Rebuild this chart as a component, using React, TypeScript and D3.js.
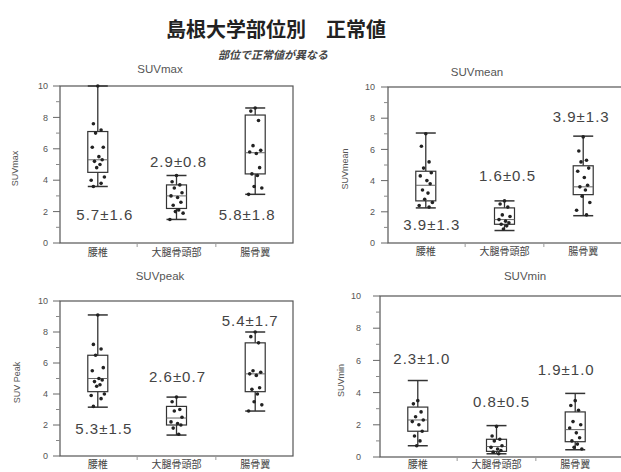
import React from "react";
import * as d3 from "d3";

const categories = ["腰椎", "大腿骨頭部", "腸骨翼"];

// box stats: [whiskerLow, q1, median, q3, whiskerHigh]
const maxStats = [[3.6, 4.5, 5.3, 7.1, 10.0], [1.5, 2.2, 3.0, 3.7, 4.3], [3.1, 4.4, 5.75, 8.15, 8.6]];
const meanStats = [[2.25, 2.7, 3.7, 4.6, 7.05], [0.8, 1.2, 1.5, 2.25, 2.7], [1.75, 3.1, 3.6, 4.95, 6.85]];
const peakStats = [[3.15, 4.15, 5.0, 6.5, 9.1], [1.35, 2.0, 2.45, 3.2, 3.8], [2.9, 4.15, 5.3, 7.3, 8.0]];
const minStats = [[0.7, 1.6, 2.3, 3.1, 4.75], [0.2, 0.35, 0.65, 1.1, 1.95], [0.45, 0.95, 1.7, 2.8, 3.95]];

const maxPoints = [
  [10.0, 7.6, 7.2, 7.0, 6.1, 6.1, 5.5, 5.3, 5.2, 5.0, 4.8, 4.2, 4.0, 3.8, 3.6],
  [4.3, 3.9, 3.7, 3.5, 3.2, 3.0, 2.9, 2.6, 2.4, 2.1, 2.0, 1.9, 1.5],
  [8.6, 8.4, 7.8, 6.2, 5.9, 5.8, 5.7, 4.8, 4.4, 4.3, 3.6, 3.5, 3.1],
];
const meanPoints = [
  [7.0, 6.2, 5.2, 4.8, 4.5, 4.3, 4.0, 3.8, 3.4, 3.2, 2.8, 2.6, 2.4, 2.3],
  [2.7, 2.5, 2.3, 1.8, 1.7, 1.5, 1.4, 1.3, 1.2, 1.1, 0.9],
  [6.8, 5.9, 5.3, 5.2, 4.8, 4.6, 4.2, 3.7, 3.6, 3.4, 3.0, 2.6, 2.1, 1.8],
];
const peakPoints = [
  [9.1, 7.2, 6.9, 6.5, 5.7, 5.5, 5.0, 4.9, 4.8, 4.6, 4.5, 4.0, 3.9, 3.7, 3.2],
  [3.8, 3.5, 3.0, 2.9, 2.5, 2.2, 2.1, 2.0, 1.8, 1.4],
  [8.0, 7.7, 7.3, 5.5, 5.4, 5.3, 5.2, 4.4, 4.3, 4.0, 3.5, 3.3, 2.9],
];
const minPoints = [
  [3.5, 3.3, 2.8, 2.5, 2.3, 2.2, 2.0, 1.6, 1.3, 1.0, 0.7],
  [1.9, 1.3, 1.1, 1.0, 0.7, 0.6, 0.5, 0.4, 0.3, 0.2],
  [3.5, 3.2, 2.9, 2.2, 2.0, 1.8, 1.5, 1.2, 1.0, 0.8, 0.6, 0.5],
];

const maxLabels = ["5.7±1.6", "2.9±0.8", "5.8±1.8"];
const meanLabels = ["3.9±1.3", "1.6±0.5", "3.9±1.3"];
const peakLabels = ["5.3±1.5", "2.6±0.7", "5.4±1.7"];
const minLabels = ["2.3±1.0", "0.8±0.5", "1.9±1.0"];

const yTicks = [0, 2, 4, 6, 8, 10];
const yMinorTicks = [1, 3, 5, 7, 9];

const panels = [
  {
    title: "SUVmax", yLabel: "SUVmax", stats: maxStats, points: maxPoints, labels: maxLabels,
    x0: 60, x1: 293, y0: 86, y1: 243, titleX: 160, titleY: 73, yLabelX: 18, tickGap: 12, catY: 256,
    ann: [[7, 1.8], [2, 5.2], [-8, 1.8]],
  },
  {
    title: "SUVmean", yLabel: "SUVmean", stats: meanStats, points: meanPoints, labels: meanLabels,
    x0: 388, x1: 623, y0: 87, y1: 243, titleX: 477, titleY: 76, yLabelX: 348, tickGap: 13, catY: 255,
    ann: [[6, 1.15], [3, 4.3], [-2, 8.1]],
  },
  {
    title: "SUVpeak", yLabel: "SUV Peak", stats: peakStats, points: peakPoints, labels: peakLabels,
    x0: 60, x1: 293, y0: 301, y1: 456, titleX: 160, titleY: 280, yLabelX: 20, tickGap: 12, catY: 468,
    ann: [[6, 1.8], [1, 5.1], [-5, 8.75]],
  },
  {
    title: "SUVmin", yLabel: "SUVmin", stats: minStats, points: minPoints, labels: minLabels,
    x0: 380, x1: 623, y0: 296, y1: 457, titleX: 525, titleY: 280, yLabelX: 344, tickGap: 19, catY: 468,
    ann: [[4, 6.1], [5, 3.45], [-9, 5.4]],
  },
];

const jitter = [0, -4, 3, -2, 5, -5, 1, 4, -3, 2, -1, 6, -6, 3, -4, 0];

function Panel({ p }: { p: any }) {
  const x = d3.scalePoint<string>().domain(categories).range([p.x0, p.x0 + 233]).padding(0.48);
  const y = d3.scaleLinear().domain([0, 10]).range([p.y1, p.y0]);
  const bw = 20;
  const step = x.step();
  const ink = "#333";
  return (
    <g>
      <text x={p.titleX} y={p.titleY} textAnchor="middle" fontSize={11.5} fill="#555" fontFamily="Liberation Sans, Arial, sans-serif">{p.title}</text>
      <rect x={p.x0} y={p.y0} width={p.x1 - p.x0} height={p.y1 - p.y0} fill="none" stroke="#555" strokeWidth={1.2} />
      {yTicks.map((t) => (
        <g key={"t" + t}>
          <line x1={p.x0 - 7} x2={p.x0} y1={y(t)} y2={y(t)} stroke="#666" />
          <text x={p.x0 - p.tickGap} y={y(t)} dy="0.35em" textAnchor="end" fontSize={9} fill="#555" fontFamily="Liberation Sans, Arial, sans-serif">{t}</text>
        </g>
      ))}
      {yMinorTicks.map((t) => (
        <line key={"m" + t} x1={p.x0 - 4} x2={p.x0} y1={y(t)} y2={y(t)} stroke="#888" />
      ))}
      <text transform={`translate(${p.yLabelX},${(p.y0 + p.y1) / 2 + 4}) rotate(-90)`} textAnchor="middle" fontSize={9} fill="#555" fontFamily="Liberation Sans, Arial, sans-serif">{p.yLabel}</text>
      {categories.slice(1).map((c) => (
        <line key={"xt" + c} x1={(x(c) as number) - step / 2} x2={(x(c) as number) - step / 2} y1={p.y1} y2={p.y1 + 4} stroke="#999" />
      ))}
      {categories.map((c, i) => {
        const cx = x(c) as number;
        const [lo, q1, med, q3, hi] = p.stats[i];
        return (
          <g key={c}>
            <text x={cx} y={p.catY} textAnchor="middle" fontSize={10} fill="#444" fontFamily="Noto Sans CJK JP, sans-serif">{c}</text>
            <line x1={cx} x2={cx} y1={y(hi)} y2={y(q3)} stroke={ink} strokeWidth={1.3} />
            <line x1={cx} x2={cx} y1={y(q1)} y2={y(lo)} stroke={ink} strokeWidth={1.3} />
            <line x1={cx - bw / 2} x2={cx + bw / 2} y1={y(hi)} y2={y(hi)} stroke={ink} strokeWidth={1.5} />
            <line x1={cx - bw / 2} x2={cx + bw / 2} y1={y(lo)} y2={y(lo)} stroke={ink} strokeWidth={1.5} />
            <rect x={cx - bw / 2} y={y(q3)} width={bw} height={y(q1) - y(q3)} fill="#fff" stroke={ink} strokeWidth={1.2} />
            <line x1={cx - bw / 2} x2={cx + bw / 2} y1={y(med)} y2={y(med)} stroke="#666" strokeWidth={1} />
            {p.points[i].map((v: number, j: number) => (
              <circle key={j} cx={cx + jitter[j % jitter.length] * 1.1} cy={y(v)} r={1.8} fill="#222" />
            ))}
            <text x={cx + p.ann[i][0]} y={y(p.ann[i][1])} dy="0.36em" textAnchor="middle" fontSize={15} fill="#444" letterSpacing={1} fontFamily="Liberation Sans, Arial, sans-serif">{p.labels[i]}</text>
          </g>
        );
      })}
    </g>
  );
}

export default function App() {
  return (
    <svg width={621} height={472} style={{ position: "absolute", left: 0, top: 0, background: "#fff" }}>
      <rect width={621} height={472} fill="#fff" />
      <text x={276} y={37} textAnchor="middle" fontSize={20} fontWeight="bold" fill="#222" fontFamily="Noto Sans CJK JP, sans-serif">島根大学部位別　正常値</text>
      <text x={273} y={59} textAnchor="middle" fontSize={11} fontStyle="italic" fontWeight="bold" fill="#444" fontFamily="Noto Sans CJK JP, sans-serif">部位で正常値が異なる</text>
      {panels.map((p) => (
        <Panel key={p.title} p={p} />
      ))}
    </svg>
  );
}
